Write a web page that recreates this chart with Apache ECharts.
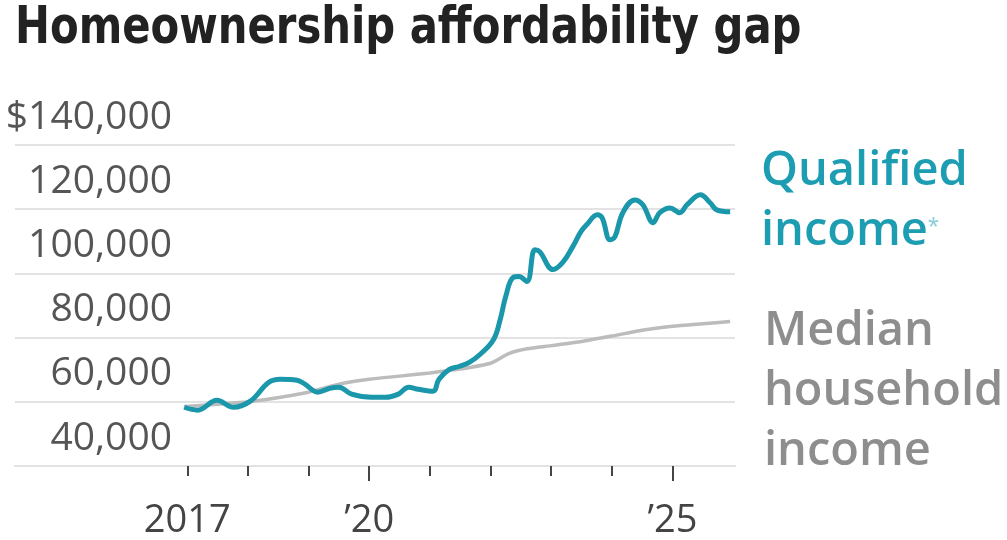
<!DOCTYPE html>
<html>
<head>
<meta charset="utf-8">
<script src="https://cdn.jsdelivr.net/npm/echarts@6/dist/echarts.min.js"></script>
<style>
html,body{margin:0;padding:0;background:#fff;}
#chart{width:1007px;height:540px;}
</style>
</head>
<body>
<div id="chart"></div>
<script>
// ---- Data ----
const qualYears = [2016.95, 2017.17, 2017.49, 2017.76, 2018.04, 2018.34, 2018.53, 2018.81, 2018.94, 2019.15,
  2019.35, 2019.50, 2019.71, 2020.04, 2020.27, 2020.48, 2020.65, 2020.81, 2021.05, 2021.15,
  2021.32, 2021.48, 2021.65, 2021.83, 2022.05, 2022.16, 2022.25, 2022.37, 2022.47, 2022.60,
  2022.73, 2022.81, 2023.03, 2023.19, 2023.36, 2023.49, 2023.60, 2023.76, 2023.84, 2023.97,
  2024.05, 2024.18, 2024.38, 2024.51, 2024.68, 2024.79, 2024.96, 2025.12, 2025.24, 2025.46,
  2025.62, 2025.73, 2025.95];
const qualValues = [58300, 57400, 60500, 58300, 60200, 66000, 67000, 66700, 65500, 63000,
  64200, 64500, 62400, 61400, 61400, 62400, 64500, 63900, 63300, 67000,
  70100, 71000, 72300, 74800, 79400, 85700, 92800, 98700, 99000, 97500,
  107400, 106800, 101200, 103400, 108500, 113000, 115500, 118300, 117300, 110500,
  111400, 118900, 122900, 121400, 115800, 118900, 120400, 118900, 121400, 124500,
  122000, 119800, 119200];

const medYears = [2016.95, 2018.0, 2019.0, 2019.5, 2020.0, 2020.5, 2021.0, 2021.5, 2022.0, 2022.3,
  2022.6, 2023.0, 2023.5, 2024.0, 2024.5, 2025.0, 2025.5, 2025.95];
const medValues = [58500, 60000, 63000, 65500, 67000, 68000, 69000, 70200, 72000, 75000,
  76500, 77500, 78800, 80500, 82300, 83500, 84300, 85000];

const yTicks = [40000, 60000, 80000, 100000, 120000, 140000];
const xMinorTicks = [2017, 2018, 2019, 2020, 2021, 2022, 2023, 2024, 2025];
const xMajorTicks = [2020, 2025];
const xLabels = [2017, 2020, 2025];
const xLabelText = {2017: '2017', 2020: '\u201920', 2025: '\u201925'};

const titleText = 'Homeownership affordability gap';

const zip = (a, b) => a.map((v, i) => [v, b[i]]);

const TEAL = '#1b97ab';
const TEAL_TXT = '#1c9db2';
const GRAY = '#bcbcbc';
const GRAY_TXT = '#8e8e8e';

const X_MIN = 2014.16, X_MAX = 2026.03;

const chart = echarts.init(document.getElementById('chart'), null, {renderer: 'canvas'});
chart.setOption({
  animation: false,
  backgroundColor: '#fff',
  grid: {left: 15, right: 272, top: 145, bottom: 73, containLabel: false},
  xAxis: [{
    type: 'value', min: X_MIN, max: X_MAX, position: 'bottom',
    axisLine: {show: true, lineStyle: {color: '#e2e2e2', width: 2}},
    splitLine: {show: false},
    axisTick: {show: true, customValues: xMinorTicks, length: 10, lineStyle: {color: '#444', width: 2}},
    axisLabel: {show: true, customValues: xLabels, formatter: v => xLabelText[v] || '', margin: 36,
      fontFamily: '"Open Sans", sans-serif', fontSize: 38, color: '#444'}
  }, {
    type: 'value', min: X_MIN, max: X_MAX, position: 'bottom', offset: 0,
    axisLine: {show: false},
    splitLine: {show: false},
    axisTick: {show: true, customValues: xMajorTicks, length: 15, lineStyle: {color: '#444', width: 2}},
    axisLabel: {show: false}
  }],
  yAxis: {
    type: 'value', min: 40000, max: 140000, interval: 20000,
    axisLine: {show: false}, axisTick: {show: false},
    splitLine: {show: true, lineStyle: {color: '#e3e3e3', width: 2}},
    axisLabel: {
      inside: true, align: 'right', verticalAlign: 'bottom', margin: 157,
      padding: [0, 0, 8, 0],
      fontFamily: '"Open Sans", sans-serif', fontSize: 39, color: '#555',
      formatter: v => (v === 140000 ? '$' : '') + v.toLocaleString('en-US')
    }
  },
  series: [{
    name: 'Median household income', type: 'line', data: zip(medYears, medValues),
    showSymbol: false, smooth: 0.2, lineStyle: {color: GRAY, width: 3.5}, z: 2
  }, {
    name: 'Qualified income', type: 'line', data: zip(qualYears, qualValues),
    showSymbol: false, smooth: 0.4, lineStyle: {color: TEAL, width: 5}, z: 3
  }],
  graphic: [{
    type: 'text', x: 15, y: 4, scaleX: 0.91, scaleY: 1,
    style: {
      text: titleText, x: 0, y: 0, verticalAlign: 'top',
      fontFamily: '"DejaVu Sans Condensed", "DejaVu Sans", sans-serif', fontWeight: 'bold', fontSize: 51, fill: '#222'
    }
  }, {
    type: 'text', left: 761, top: 142,
    style: {
      text: 'Qualified\nincome{s|*}',
      rich: {s: {fontSize: 28, fill: '#8ccfd9', verticalAlign: 'top', padding: [12, 0, 0, 0]}},
      fontFamily: '"Open Sans", sans-serif', fontWeight: 600, fontSize: 47, lineHeight: 60, fill: TEAL_TXT
    }
  }, {
    type: 'text', left: 764, top: 302,
    style: {
      text: 'Median\nhousehold\nincome',
      fontFamily: '"Open Sans", sans-serif', fontWeight: 600, fontSize: 47, lineHeight: 60, fill: GRAY_TXT
    }
  }]
});
</script>
</body>
</html>
